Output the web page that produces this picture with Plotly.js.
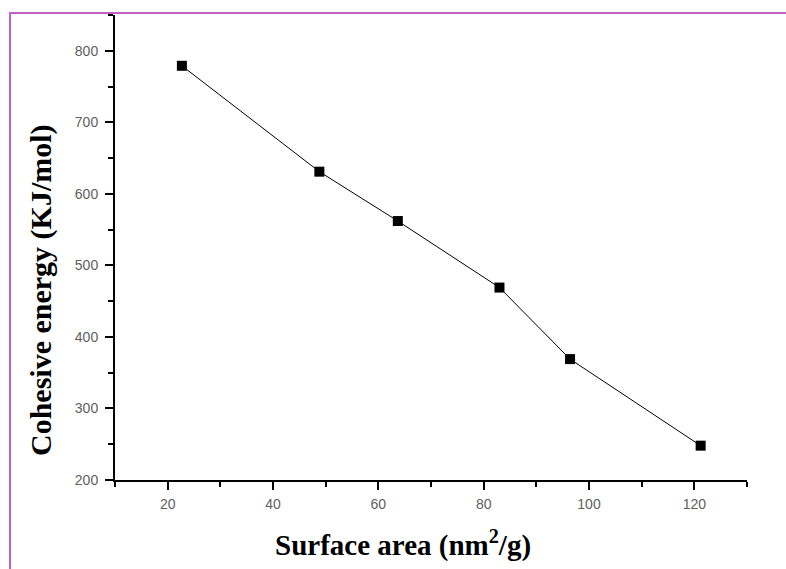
<!DOCTYPE html>
<html>
<head>
<meta charset="utf-8">
<script src="https://cdn.plot.ly/plotly-3.0.1.min.js"></script>
<style>
  html, body { margin: 0; padding: 0; background: #fff; }
  #wrap { position: relative; width: 786px; height: 569px; overflow: hidden; background: #fff; }
  #frame { position: absolute; left: 9px; top: 12px; width: 800px; height: 600px;
           border-left: 2px solid #c060c8; border-top: 2px solid #c060c8; pointer-events: none; }
  #chart { position: absolute; left: 0; top: 0; width: 786px; height: 569px; }
</style>
</head>
<body>
<div id="wrap">
  <div id="frame"></div>
  <div id="chart"></div>
</div>
<script>
// Data
const surfaceArea = [22.7, 48.8, 63.7, 83.0, 96.4, 121.2];
const cohesiveEnergy = [779, 631, 562, 469, 369, 248];
const xTitle = 'Surface area (nm<sup>2</sup>/g)';
const yTitle = 'Cohesive energy (KJ/mol)';

const trace = {
  x: surfaceArea,
  y: cohesiveEnergy,
  type: 'scatter',
  mode: 'lines+markers',
  line: { color: '#000', width: 1 },
  marker: { symbol: 'square', size: 10, color: '#000' },
  showlegend: false,
  hoverinfo: 'skip'
};

const tickFont = { family: 'Liberation Sans, Arial, sans-serif', size: 14, color: '#606060' };
const xTitleFont = { family: 'Liberation Serif, Times New Roman, serif', size: 29, color: '#000' };
const yTitleFont = { family: 'Liberation Serif, Times New Roman, serif', size: 30, color: '#000' };

const layout = {
  width: 786,
  height: 569,
  margin: { l: 115, r: 39, t: 15, b: 89 },
  paper_bgcolor: 'rgba(0,0,0,0)',
  plot_bgcolor: 'rgba(0,0,0,0)',
  showlegend: false,
  xaxis: {
    range: [10, 130],
    tick0: 0, dtick: 20,
    ticks: 'outside', ticklen: 8, tickwidth: 2, tickcolor: '#000',
    minor: { dtick: 10, ticks: 'outside', ticklen: 5, tickwidth: 2, tickcolor: '#000' },
    showline: true, linecolor: '#000', linewidth: 2,
    showgrid: false, zeroline: false,
    tickfont: tickFont,
    ticklabelstandoff: 2
  },
  yaxis: {
    range: [200, 850],
    tick0: 0, dtick: 100,
    ticks: 'outside', ticklen: 8, tickwidth: 2, tickcolor: '#000',
    minor: { dtick: 50, ticks: 'outside', ticklen: 5, tickwidth: 2, tickcolor: '#000' },
    showline: true, linecolor: '#000', linewidth: 2,
    showgrid: false, zeroline: false,
    tickfont: tickFont,
    ticklabelstandoff: 4
  },
  annotations: [
    {
      text: '<b>' + xTitle + '</b>',
      xref: 'paper', yref: 'paper',
      x: (403 - 115) / 632, y: -(543 - 480) / 465,
      xanchor: 'center', yanchor: 'middle',
      showarrow: false, font: xTitleFont
    },
    {
      text: '<b>' + yTitle + '</b>',
      xref: 'paper', yref: 'paper',
      x: -(115 - 41) / 632, y: (480 - 290) / 465,
      xanchor: 'center', yanchor: 'middle',
      textangle: -90,
      showarrow: false, font: yTitleFont
    }
  ]
};

Plotly.newPlot('chart', [trace], layout, { displayModeBar: false, staticPlot: true });
</script>
</body>
</html>
